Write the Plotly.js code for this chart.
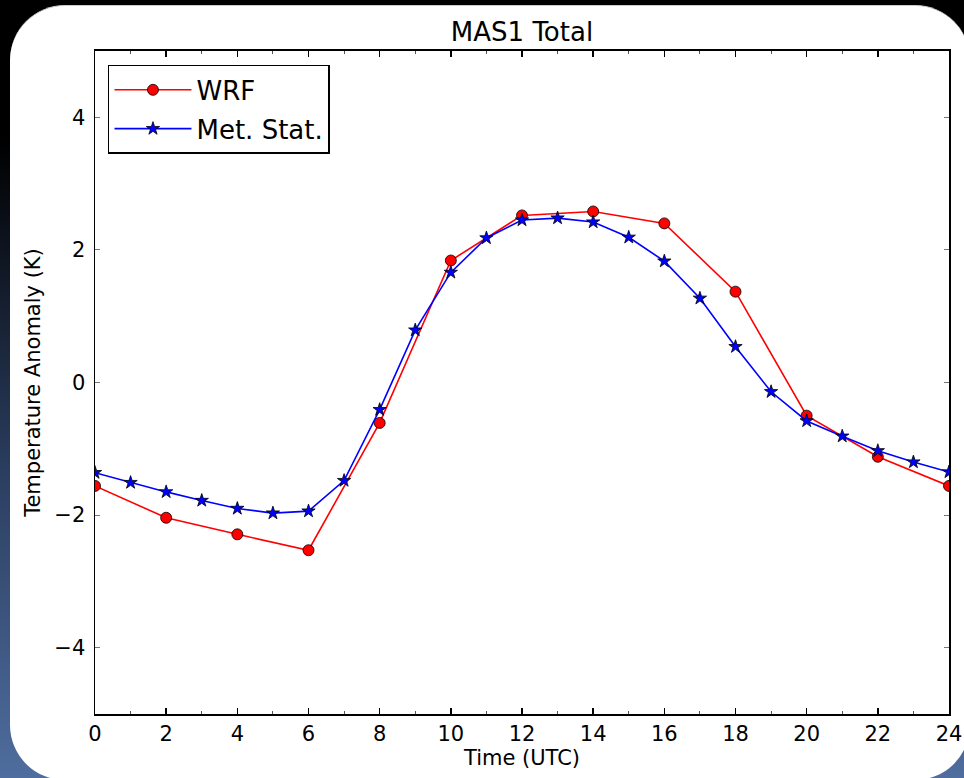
<!DOCTYPE html>
<html>
<head>
<meta charset="utf-8">
<script src="https://cdn.plot.ly/plotly-3.0.1.min.js"></script>
<style>
  html, body { margin: 0; padding: 0; }
  body { width: 964px; height: 778px; overflow: hidden; position: relative;
         background: linear-gradient(to bottom, #000 0%, #000 18%, #2a3d5e 60%, #4f6d9e 100%); }
  #card { position: absolute; left: 10px; top: 5px; width: 960px; height: 775px;
          background: #fff; border-radius: 55px; border-top: 1px solid #ccc; box-sizing: border-box; }
  #chart { position: absolute; left: 0; top: 0; width: 964px; height: 778px; }
</style>
</head>
<body>
<div id="card"></div>
<div id="chart"></div>
<script>
// WRF model (every 2 hours)
const wrfHours = [0, 2, 4, 6, 8, 10, 12, 14, 16, 18, 20, 22, 24];
const wrfValues = [-1.56, -2.04, -2.29, -2.53, -0.61, 1.84, 2.52, 2.58, 2.40, 1.37, -0.50, -1.12, -1.56];

// Meteorological station (hourly)
const metHours = [0, 1, 2, 3, 4, 5, 6, 7, 8, 9, 10, 11, 12, 13, 14, 15, 16, 17, 18, 19, 20, 21, 22, 23, 24];
const metValues = [-1.36, -1.51, -1.65, -1.78, -1.90, -1.97, -1.94, -1.48, -0.41, 0.79, 1.66, 2.18, 2.45, 2.48, 2.42, 2.19, 1.83, 1.27, 0.54, -0.14, -0.58, -0.81, -1.03, -1.20, -1.35];

const xTickVals = [0, 2, 4, 6, 8, 10, 12, 14, 16, 18, 20, 22, 24];
const yTickVals = [-4, -2, 0, 2, 4];
const yTickText = ['\u22124', '\u22122', '0', '2', '4'];

const FONT = '"DejaVu Sans", "Liberation Sans", sans-serif';

const traces = [
  {
    x: wrfHours, y: wrfValues, name: 'WRF', type: 'scatter', mode: 'lines+markers',
    legendgroup: 'a',
    line: { color: '#ff0000', width: 1.6 },
    marker: { symbol: 'circle', size: 11, color: '#ff0000', line: { color: '#000', width: 0.8 } }
  },
  {
    x: metHours, y: metValues, name: 'Met. Stat.', type: 'scatter', mode: 'lines+markers',
    legendgroup: 'b',
    line: { color: '#0000ff', width: 1.6 },
    marker: { symbol: 'star', size: 10, color: '#0000ff', line: { color: '#000', width: 0.8 } }
  }
];

const layout = {
  width: 964, height: 778,
  margin: { l: 95, r: 15, t: 51, b: 64, pad: 0 },
  paper_bgcolor: 'rgba(0,0,0,0)',
  plot_bgcolor: '#ffffff',
  font: { family: FONT, color: '#000', size: 21 },
  title: {
    text: 'MAS1 Total', font: { family: FONT, size: 26, color: '#000' },
    x: 0.5415, xanchor: 'center', xref: 'container',
    y: 0.959, yanchor: 'middle', yref: 'container'
  },
  showlegend: true,
  legend: {
    x: 0.0152, y: 0.979, xanchor: 'left', yanchor: 'top',
    bgcolor: '#ffffff', bordercolor: '#000', borderwidth: 1.5,
    font: { family: FONT, size: 26, color: '#000' },
    traceorder: 'grouped', tracegroupgap: 2, itemwidth: 77
  },
  xaxis: {
    range: [0, 24], tickmode: 'array', tickvals: xTickVals,
    ticks: 'inside', ticklen: 6, tickwidth: 1.5, tickcolor: '#000',
    minor: { dtick: 1, ticks: 'inside', ticklen: 3, tickwidth: 1, tickcolor: '#555' },
    showline: true, linecolor: '#000', linewidth: 2, mirror: 'allticks',
    showgrid: false, zeroline: false,
    tickfont: { family: FONT, size: 21, color: '#000' },
    title: { text: 'Time (UTC)', font: { family: FONT, size: 21, color: '#000' }, standoff: 4 }
  },
  yaxis: {
    range: [-5, 5], tickmode: 'array', tickvals: yTickVals, ticktext: yTickText,
    ticks: 'inside', ticklen: 5, tickwidth: 1, tickcolor: '#777',
    showline: true, linecolor: '#000', linewidth: 1.5, mirror: 'allticks',
    showgrid: false, zeroline: false, ticklabelstandoff: 4,
    tickfont: { family: FONT, size: 21, color: '#000' },
    title: { text: 'Temperature Anomaly (K)', font: { family: FONT, size: 21, color: '#000' }, standoff: 8 }
  }
};

Plotly.newPlot('chart', traces, layout, { displayModeBar: false, staticPlot: true });
</script>
</body>
</html>
